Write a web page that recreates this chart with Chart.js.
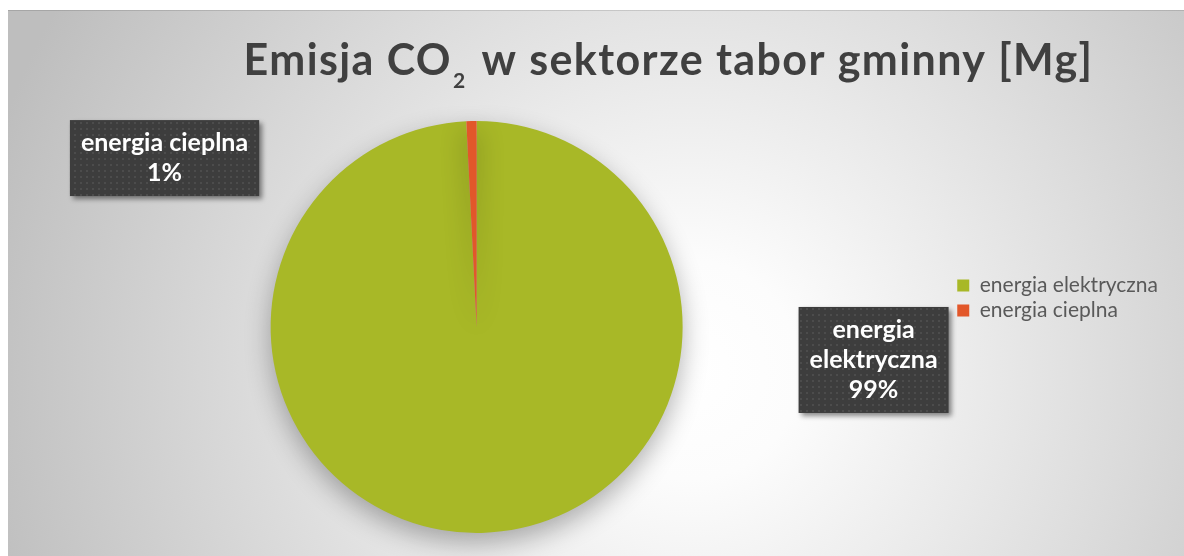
<!DOCTYPE html>
<html>
<head>
<meta charset="utf-8">
<script src="https://cdn.jsdelivr.net/npm/chart.js@4.4.0/dist/chart.umd.min.js"></script>
<style>
  html, body { margin: 0; padding: 0; background: #fff; overflow: hidden; }
  #wrap { position: absolute; left: 0; top: 0; width: 1184px; height: 556px; }
</style>
</head>
<body>
<div id="wrap"><canvas id="chart" width="1184" height="556"></canvas></div>
<script>
// data
const categories = ["energia elektryczna", "energia cieplna"];
const values = [99.2, 0.8];
const sliceColors = ["#a8b827", "#e2572a"];
const titleParts = ["Emisja CO", "2", " w sektorze tabor gminny [Mg]"];
const labelLines = [["energia", "elektryczna"], ["energia cieplna"]];
// where the dark label boxes sit, relative to the pie (in radii)
const labelOffsets = [[1.927, 0.16], [-1.515, -0.82]];

const FONT = "Lato, 'Open Sans', sans-serif";

// dotted fill for the label boxes
function makePattern(ctx) {
    const p = document.createElement("canvas");
    p.width = 6; p.height = 6;
    const pc = p.getContext("2d");
    pc.fillStyle = "#3d3d3d";
    pc.fillRect(0, 0, 6, 6);
    pc.fillStyle = "#4c4c4c";
    pc.fillRect(2, 2, 2, 2);
    return ctx.createPattern(p, "repeat");
}

const backgroundPlugin = {
    id: "bg",
    beforeDraw(chart) {
        const ctx = chart.ctx;
        const x0 = 8, y0 = 10, w = chart.width - x0, h = chart.height - y0;
        ctx.save();
        const g = ctx.createRadialGradient(690, 370, 0, 690, 370, 730);
        g.addColorStop(0, "#ffffff");
        g.addColorStop(0.15, "#fcfcfc");
        g.addColorStop(1, "#bebebe");
        ctx.fillStyle = g;
        ctx.fillRect(x0, y0, w, h);
        ctx.fillStyle = "rgba(0,0,0,0.12)";
        ctx.fillRect(x0, y0, w, 1);
        ctx.restore();
    }
};

const pieShadow = {
    id: "pieShadow",
    beforeDatasetsDraw(chart) {
        const ctx = chart.ctx;
        ctx.save();
        ctx.shadowColor = "rgba(0,0,0,0.3)";
        ctx.shadowBlur = 26;
        ctx.shadowOffsetY = 10;
    },
    afterDatasetsDraw(chart) {
        chart.ctx.restore();
    }
};

const titlePlugin = {
    id: "bigTitle",
    afterDraw(chart) {
        const ctx = chart.ctx;
        ctx.save();
        ctx.fillStyle = "#404040";
        ctx.textBaseline = "alphabetic";
        ctx.textAlign = "left";
        ctx.letterSpacing = "1.4px";
        const big = "bold 43px " + FONT, small = "bold 21px " + FONT;
        ctx.font = big;
        const w1 = ctx.measureText(titleParts[0]).width;
        const w3 = ctx.measureText(titleParts[2]).width;
        ctx.font = small;
        const w2 = ctx.measureText(titleParts[1]).width + 3;
        let x = 668 - (w1 + w2 + w3) / 2;
        const base = 75;
        ctx.font = big;
        ctx.fillText(titleParts[0], x, base);
        x += w1 + 1;
        ctx.font = small;
        ctx.fillText(titleParts[1], x, base + 13);
        x += w2;
        ctx.font = big;
        ctx.fillText(titleParts[2], x, base);
        ctx.restore();
    }
};

const boxLabels = {
    id: "boxLabels",
    afterDraw(chart) {
        const ctx = chart.ctx;
        const meta = chart.getDatasetMeta(0);
        const total = values.reduce((a, b) => a + b, 0);
        const pattern = makePattern(ctx);
        meta.data.forEach((arc, i) => {
            const lines = labelLines[i].concat([Math.round(values[i] / total * 100) + "%"]);
            const r = arc.outerRadius;
            const cx = arc.x + labelOffsets[i][0] * r;
            const cy = arc.y + labelOffsets[i][1] * r;
            ctx.save();
            ctx.font = "bold 25px " + FONT;
            const tw = Math.max(...lines.map(l => ctx.measureText(l).width));
            const lh = 30;
            const bw = tw + 22, bh = lines.length * lh + 16;
            ctx.shadowColor = "rgba(0,0,0,0.45)";
            ctx.shadowBlur = 5;
            ctx.shadowOffsetX = 3;
            ctx.shadowOffsetY = 3;
            ctx.fillStyle = pattern;
            ctx.fillRect(cx - bw / 2, cy - bh / 2, bw, bh);
            ctx.shadowColor = "transparent";
            ctx.fillStyle = "#ffffff";
            ctx.textAlign = "center";
            ctx.textBaseline = "middle";
            lines.forEach((l, k) => {
                ctx.fillText(l, cx, cy - bh / 2 + 8 + lh * k + lh / 2);
            });
            ctx.restore();
        });
    }
};

new Chart(document.getElementById("chart"), {
    type: "pie",
    data: {
        labels: categories,
        datasets: [{
            data: values,
            backgroundColor: sliceColors,
            borderWidth: 0
        }]
    },
    options: {
        responsive: false,
        animation: false,
        layout: { padding: { top: 121, bottom: 23, left: 0, right: 16 } },
        plugins: {
            title: { display: false },
            tooltip: { enabled: false },
            legend: {
                display: true,
                position: "right",
                align: "start",
                title: {
                    display: true,
                    text: " ",
                    font: { size: 10 },
                    padding: { top: 138, bottom: 0 }
                },
                labels: {
                    color: "#595959",
                    boxWidth: 12,
                    boxHeight: 12,
                    padding: 4,
                    font: { family: FONT, size: 21 }
                }
            }
        }
    },
    plugins: [backgroundPlugin, pieShadow, titlePlugin, boxLabels]
});
</script>
</body>
</html>
